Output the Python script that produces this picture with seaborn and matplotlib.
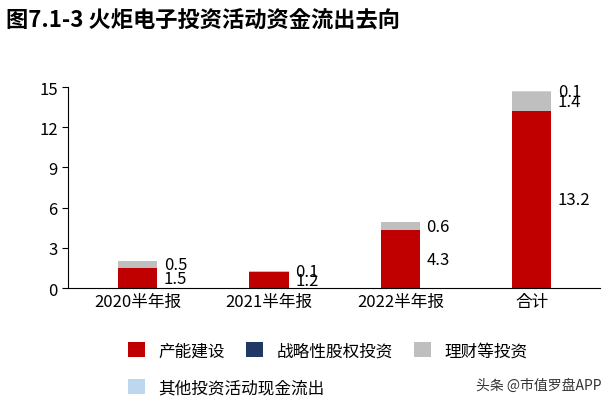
import matplotlib.pyplot as plt
import seaborn as sns
import numpy as np
from matplotlib import font_manager

names = {f.name for f in font_manager.fontManager.ttflist}
cjk = [n for n in ['Noto Sans CJK SC', 'Noto Sans CJK JP', 'Noto Sans CJK TC', 'Noto Sans CJK KR'] if n in names]
plt.rcParams['font.family'] = cjk + ['DejaVu Sans']

categories = ['2020半年报', '2021半年报', '2022半年报', '合计']
series_names = ['产能建设', '战略性股权投资', '理财等投资', '其他投资活动现金流出']
capacity = [1.5, 1.2, 4.3, 13.2]
equity = [0.0, 0.0, 0.0, 0.0]
wealth = [0.5, 0.1, 0.6, 1.4]
other = [0.0, 0.0, 0.0, 0.1]
colors = ['#C00000', '#1F3864', '#BFBFBF', '#BDD7EE']

fig = plt.figure(figsize=(6.14, 4.06), dpi=100)
ax = fig.add_axes([0.111, 0.288, 0.866, 0.495])

bottom = np.zeros(len(categories))
for name, vals, c in zip(series_names, [capacity, equity, wealth, other], colors):
    sns.barplot(x=categories, y=vals, bottom=bottom, color=c, width=0.3,
                label=name, ax=ax, saturation=1)
    for i, v in enumerate(vals):
        if v > 0:
            ax.text(i + 0.2, bottom[i] + v / 2, f'{v:.1f}', va='center',
                    ha='left', fontsize=12)
    bottom = bottom + np.array(vals)

ax.set_ylim(0, 15)
ax.set_yticks([0, 3, 6, 9, 12, 15])
ax.set_xlim(-0.53, 3.52)
ax.tick_params(axis='both', labelsize=12, length=0)
ax.tick_params(axis='y', length=4)
for s in ['top', 'right']:
    ax.spines[s].set_visible(False)

h, l = ax.get_legend_handles_labels()
kw = dict(frameon=False, fontsize=12, handlelength=1.0, handleheight=1.0,
          columnspacing=1.3, borderaxespad=0)
leg1 = ax.legend(h[:3], l[:3], loc='upper left', bbox_to_anchor=(0.1, -0.235),
                 ncol=3, **kw)
ax.add_artist(leg1)
ax.legend(h[3:], l[3:], loc='upper left', bbox_to_anchor=(0.1, -0.42), **kw)

fig.text(0.01, 0.95, '图7.1-3 火炬电子投资活动资金流出去向', fontsize=16,
         fontweight='bold', va='center')
fig.text(0.98, 0.04, '头条 @市值罗盘APP', fontsize=10, ha='right', color='#333333')

fig.savefig('out.png')
